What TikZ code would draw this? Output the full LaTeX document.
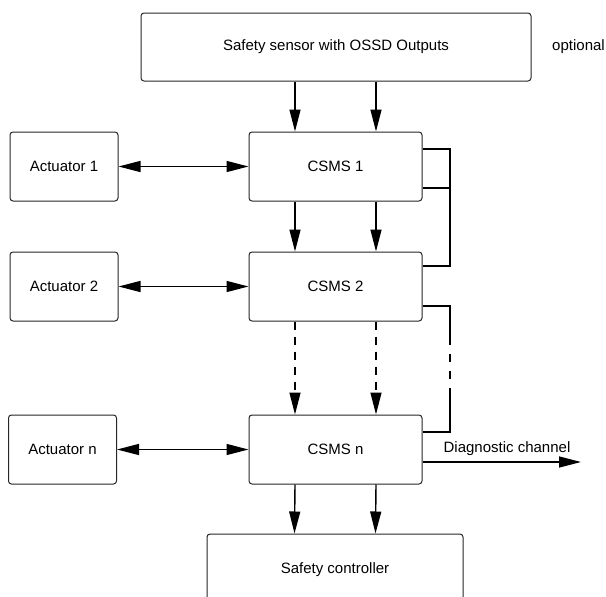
\documentclass[tikz,border=0pt]{standalone}
\usepackage{fontspec}
\setmainfont{Liberation Sans}
\usetikzlibrary{arrows.meta}

\begin{document}
\begin{tikzpicture}[x=1pt, y=-1pt,
    >={Triangle[length=22pt, width=11pt]},
    box/.style={draw=black!85, line width=1pt, rounded corners=3pt, inner sep=0pt,
      minimum width=173pt, minimum height=69pt, font=\fontsize{15}{18}\selectfont},
    actbox/.style={box, minimum width=108pt},
    link/.style={line width=1.4pt},
    txt/.style={font=\fontsize{15}{18}\selectfont, inner sep=0pt}]
  \useasboundingbox (0,0) rectangle (606,597);
  \clip (0,0) rectangle (606,597);

  \node[box, minimum width=390pt, minimum height=68pt] (sensor) at (336,47) {Safety sensor with OSSD Outputs};
  \node[txt] (opt) at (578.5,47) {optional};

  \node[box] (csms1) at (335.5,166.5) {CSMS 1};
  \node[box] (csms2) at (335.5,286.5) {CSMS 2};
  \node[box] (csmsn) at (335.5,449.5) {CSMS n};
  \node[box, minimum width=256pt, minimum height=72pt] (ctrl) at (335,570) {Safety controller};

  \node[actbox] (act1) at (64,166.5) {Actuator 1};
  \node[actbox] (act2) at (64,286.5) {Actuator 2};
  \node[actbox] (actn) at (62.5,449.5) {Actuator n};

  % actuators
  \draw[<->, link] (act1) -- (csms1);
  \draw[<->, link] (act2) -- (csms2);
  \draw[<->, link] (actn) -- (csmsn);

  % two channels down the chain
  \foreach \dx in {-40.5,40.5} {
    \draw[->, link] ([xshift=\dx pt]csms1.north |- sensor.south) -- ([xshift=\dx pt]csms1.north);
    \draw[->, link] ([xshift=\dx pt]csms1.south) -- ([xshift=\dx pt]csms2.north);
    \draw[->, link, dash pattern=on 8pt off 7pt] ([xshift=\dx pt]csms2.south) -- ([xshift=\dx pt]csmsn.north);
    \draw[->, link] ([xshift=\dx pt]csmsn.south) -- ([xshift=\dx pt]ctrl.north);
  }

  % feedback lines on the right
  \coordinate (b1) at (450,149);
  \coordinate (b2) at (450,306);
  \coordinate (d1) at (450,345);
  \coordinate (d2) at (450,388);
  \draw[line width=1.2pt] (csms1.east |- b1) -- (b1) |- ([yshift=20.5pt]csms2.east);
  \draw[line width=1.2pt] ([yshift=-21.5pt]csms1.east) -- ++(28,0);
  \draw[line width=1.2pt] (csms2.east |- b2) -- (b2) -- (d1);
  \draw[line width=1.2pt, dash pattern=on 0pt off 9pt on 8pt off 9pt on 8pt off 9pt] (d1) -- (d2);
  \draw[line width=1.2pt] (d2) |- ([yshift=17.5pt]csmsn.east);

  % diagnostic output
  \coordinate (diag) at (581,462);
  \draw[->, link] (csmsn.east |- diag) -- (diag);
  \node[txt] (diaglabel) at (507,449) {Diagnostic channel};
\end{tikzpicture}
\end{document}
